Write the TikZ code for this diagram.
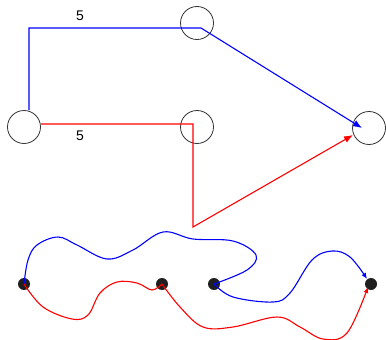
\documentclass[tikz,border=0pt]{standalone}
\usepackage{fontspec}
\setmainfont{Liberation Sans}
\usetikzlibrary{calc,arrows.meta}
\begin{document}
\begin{tikzpicture}[x=1pt,y=-1pt,
  ring/.style={circle,draw=black!80,line width=0.8pt,minimum size=33pt,inner sep=0pt},
  dot/.style={circle,fill=black!88,minimum size=12pt,inner sep=0pt},
  bluel/.style={draw=blue,line width=1.1pt},
  redl/.style={draw=red,line width=1.1pt},
  bigtip/.style={-{Latex[length=9pt,width=7pt]}},
  smalltip/.style={-{Latex[length=6pt,width=5pt]}},
  lbl/.style={font=\fontsize{14}{16}\selectfont,inner sep=0pt}]
\useasboundingbox (0,0) rectangle (386,340);
\node[ring] (A) at (24,127) {};
\node[ring] (B) at (197,23) {};
\node[ring] (C) at (197,127) {};
\node[ring] (D) at (369,128) {};
\node[dot] (d1) at (24,284) {};
\node[dot] (d2) at (162,284) {};
\node[dot] (d3) at (214,284) {};
\node[dot] (d4) at (371,284) {};
\node[lbl] (l1) at (80,16) {5};
\node[lbl] (l2) at (80,136) {5};
% blue polyline
\draw[bluel,bigtip] ($(A.north)+(5,0)$) |- ($(B.center)+(4,5)$) -- ($(D.center)+(-7,0)$);
% red polyline
\draw[redl,bigtip] ($(A.east)+(0,-3)$) -| ($(C.center)+(-4,100)$) -- ($(D.center)+(-16,7)$);
% bottom curves
\draw[bluel] plot[smooth,tension=0.6] coordinates {(d1.center) (28,260) (37,245) (58,237) (77,245) (107,259) (133,250) (163,232) (193,239) (233,241) (256,255) (247,270) (d3.center)};
\draw[bluel,smalltip] plot[smooth,tension=0.6] coordinates {(d3.center) (233,297) (273,302) (290,293) (312,260) (332,251) (350,257) (367,279)};
\draw[redl] plot[smooth,tension=0.6] coordinates {(d1.center) (43,307) (72,319) (88,315) (100,293) (117,282) (137,283) (152,290) (d2.center)};
\draw[redl,smalltip] plot[smooth,tension=0.6] coordinates {(d2.center) (180,307) (203,327) (233,327) (277,317) (300,327) (323,339) (347,333) (368,287)};
\end{tikzpicture}
\end{document}
